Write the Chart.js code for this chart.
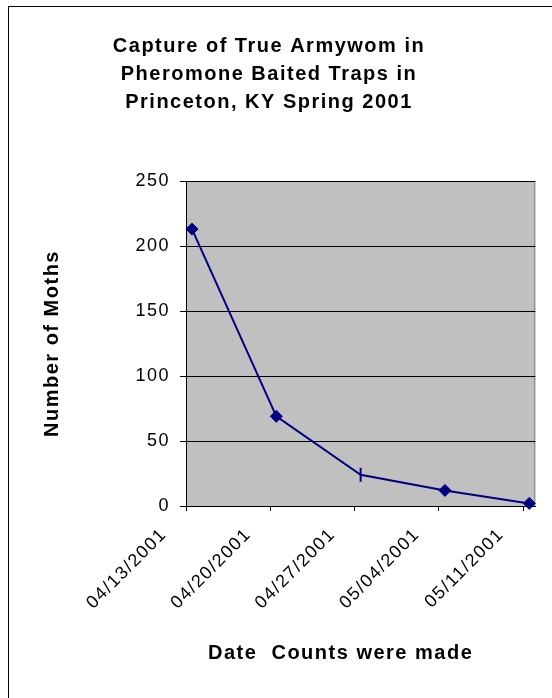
<!DOCTYPE html>
<html>
<head>
<meta charset="utf-8">
<title>True Armyworm captures</title>
<script src="https://cdn.jsdelivr.net/npm/chart.js@4/dist/chart.umd.min.js"></script>
<style>
  html, body { margin: 0; padding: 0; background: #fff; }
  #frame { position: absolute; left: 8px; top: 6px; width: 600px; height: 760px;
           border-left: 1px solid #000; border-top: 1px solid #000; }
  #wrap { position: absolute; left: 0; top: 0; width: 552px; height: 698px; }
</style>
</head>
<body>
<div id="frame"></div>
<div id="wrap"><canvas id="chart"></canvas></div>
<script>
// data
const sampleDates = ['04/13/2001', '04/20/2001', '04/27/2001', '05/04/2001', '05/11/2001'];
const mothCounts = [213, 69, 24, 12, 2];
const tickLabels = ['04/13/2001', '04/20/2001', '04/27/2001', '05/04/2001', '05/11/2001'];
const yTicks = [0, 50, 100, 150, 200, 250];

const titleLines = ['Capture of True Armywom in', 'Pheromone Baited Traps in', 'Princeton, KY Spring 2001'];
const yTitle = 'Number of Moths';
const xTitle = 'Date  Counts were made';

const FONT = "'Liberation Sans', Arial, sans-serif";
const NAVY = '#000080';
const SPACING = '1.5px';

// days since first tick; Excel date axis puts each point in the middle of its day
function dayOf(s) {
  return Math.round((Date.parse(s) - Date.parse(tickLabels[0])) / 86400000);
}
const tickDays = tickLabels.map(dayOf);
const points = sampleDates.map((d, i) => ({ x: dayOf(d) + 0.5, y: mothCounts[i] }));

// third marker in the original is a plain vertical dash
const markerStyle = ['rectRot', 'rectRot', 'line', 'rectRot', 'rectRot'];
const markerRot = [0, 0, 90, 0, 0];
const markerRadius = [6, 6, 7, 6, 6];
const markerBorder = [1, 1, 2, 1, 1];

// Excel-ish loose text spacing + grey plot area + shifted x title
const excelLook = {
  id: 'excelLook',
  beforeUpdate(chart) { chart.ctx.letterSpacing = SPACING; },
  beforeDraw(chart) {
    const { ctx, chartArea: a } = chart;
    ctx.letterSpacing = SPACING;
    ctx.save();
    ctx.fillStyle = '#c0c0c0';
    ctx.fillRect(a.left, a.top, a.right - a.left, a.bottom - a.top);
    ctx.strokeStyle = '#808080';
    ctx.lineWidth = 1;
    ctx.beginPath();
    ctx.moveTo(a.left, a.top + 0.5);
    ctx.lineTo(a.right - 0.5, a.top + 0.5);
    ctx.lineTo(a.right - 0.5, a.bottom);
    ctx.stroke();
    ctx.restore();
  },
  afterDraw(chart) {
    const { ctx, chartArea: a } = chart;
    ctx.save();
    ctx.font = 'bold 20px ' + FONT;
    ctx.fillStyle = '#000';
    ctx.textAlign = 'center';
    ctx.textBaseline = 'middle';
    ctx.fillText(xTitle, (a.left + a.right) / 2 - 20, a.bottom + 147);
    ctx.restore();
  }
};

Chart.defaults.color = '#000';
Chart.defaults.font.family = FONT;

new Chart(document.getElementById('chart'), {
  type: 'line',
  data: {
    datasets: [{
      label: 'Moths',
      data: points,
      borderColor: NAVY,
      backgroundColor: NAVY,
      borderWidth: 2,
      tension: 0,
      pointStyle: markerStyle,
      pointRotation: markerRot,
      pointRadius: markerRadius,
      pointBorderWidth: markerBorder,
      pointBorderColor: NAVY,
      pointBackgroundColor: NAVY,
      clip: false
    }]
  },
  options: {
    responsive: true,
    maintainAspectRatio: false,
    animation: false,
    layout: { padding: { left: 0, right: 14, top: 0, bottom: 0 } },
    plugins: {
      legend: { display: false },
      tooltip: { enabled: false },
      title: {
        display: true,
        text: titleLines,
        color: '#000',
        font: { size: 20, weight: 'bold', lineHeight: 1.4 },
        padding: { top: 32, bottom: 65 }
      }
    },
    scales: {
      x: {
        type: 'linear',
        min: 0,
        max: tickDays[tickDays.length - 1] + 1,
        afterBuildTicks: (scale) => { scale.ticks = tickDays.map(v => ({ value: v })); },
        afterFit: (scale) => { scale.height = 192; },
        grid: { drawOnChartArea: false, drawTicks: true, tickLength: 5, color: '#000' },
        border: { display: true, color: '#000', width: 1 },
        ticks: {
          callback: (v, i) => tickLabels[i],
          minRotation: 45,
          maxRotation: 45,
          autoSkip: false,
          padding: 13,
          labelOffset: -22,
          font: { size: 18 },
          color: '#000'
        }
      },
      y: {
        min: 0,
        max: 250,
        afterBuildTicks: (scale) => { scale.ticks = yTicks.map(v => ({ value: v })); },
        afterFit: (scale) => { scale.width = 186; },
        grid: { color: '#000', lineWidth: 1, drawTicks: true, tickLength: 6 },
        border: { display: true, color: '#000', width: 1 },
        ticks: { padding: 10, font: { size: 18 }, color: '#000' },
        title: {
          display: true,
          text: yTitle,
          color: '#000',
          font: { size: 20, weight: 'bold' },
          padding: { top: 40, bottom: 0 }
        }
      }
    }
  },
  plugins: [excelLook]
});
</script>
</body>
</html>
